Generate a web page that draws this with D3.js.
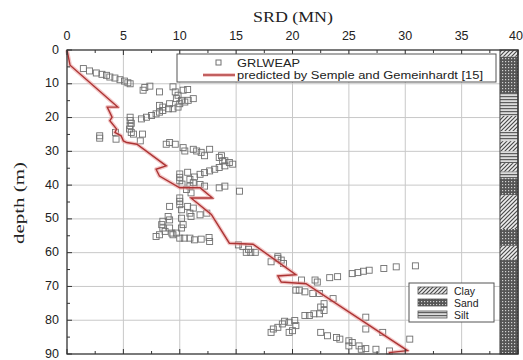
<!DOCTYPE html>
<html>
<head>
<meta charset="utf-8">
<script src="https://cdn.jsdelivr.net/npm/d3@7"></script>
<style>
    body { margin: 0; background: #fff; }
    svg { display: block; }
</style>
</head>
<body>
<svg id="chart" width="523" height="360"></svg>
<script>
// Axis ticks
const srdTicks = [0, 5, 10, 15, 20, 25, 30, 35, 40];
const depthTicks = [0, 10, 20, 30, 40, 50, 60, 70, 80, 90];

// GRLWEAP points: [SRD (MN), depth (m)]
const grlweapPoints = [
    [1.45, 5.5], [2.0, 6.2], [2.6, 6.8], [3.1, 7.2], [3.5, 7.5], [3.8, 8.0], [4.25, 8.3], [4.7, 8.8], [5.1, 9.2], [5.4, 9.7], [5.6, 10.0],
    [6.75, 11.9], [6.9, 11.1], [7.35, 10.7], [8.2, 12.4], [9.4, 10.9], [9.6, 12.4], [9.85, 13.4], [10.3, 11.9], [10.7, 11.7],
    [9.7, 14.4], [10.15, 14.9], [10.45, 15.4], [10.75, 14.9], [11.2, 14.4], [10.0, 15.9], [9.85, 16.9], [9.4, 17.4], [9.0, 17.4],
    [8.5, 17.9], [8.2, 18.4], [7.9, 18.9], [7.5, 19.4], [7.05, 19.9], [6.6, 20.4], [8.2, 16.4], [8.5, 16.9], [9.1, 15.9],
    [5.6, 19.9], [5.6, 20.9], [5.7, 21.7], [5.6, 22.4], [5.55, 23.4], [5.7, 24.4], [5.9, 24.9], [6.7, 24.9], [2.9, 25.4], [2.9, 26.1],
    [4.35, 26.4], [4.3, 24.4], [6.5, 26.9],
    [8.8, 27.9], [9.1, 27.4], [9.6, 27.9], [10.3, 28.9], [10.45, 29.9], [11.2, 29.4], [11.5, 29.9], [11.9, 30.3], [12.2, 31.3],
    [12.65, 29.4], [13.5, 31.8], [13.8, 32.8], [14.0, 34.3], [13.5, 34.8], [13.1, 35.3], [12.65, 35.8], [12.2, 36.3], [11.8, 36.8],
    [11.3, 37.6], [10.9, 38.3], [11.2, 39.3], [11.8, 39.8], [12.2, 40.3], [10.9, 40.3], [10.6, 41.3], [11.0, 42.3], [13.5, 40.8],
    [14.0, 40.3], [13.7, 31.3], [14.4, 33.3], [14.7, 33.8], [14.0, 32.8], [15.3, 41.8],
    [10.0, 36.7], [10.0, 37.7], [10.0, 38.7], [10.2, 39.7], [10.7, 36.2],
    [10.0, 43.8], [10.0, 44.8], [10.0, 45.8], [9.1, 46.3], [10.15, 47.3], [10.7, 46.3], [10.9, 48.3], [11.0, 49.3], [11.2, 46.8],
    [8.97, 49.3], [9.1, 50.3], [8.5, 50.7], [8.4, 51.7], [8.5, 52.7], [8.7, 53.7], [8.2, 54.7], [7.9, 55.2], [9.1, 52.7], [9.3, 54.2],
    [9.4, 54.7], [10.15, 49.8], [10.3, 51.7], [10.15, 52.7], [9.7, 54.2], [10.0, 55.7], [10.4, 55.7], [10.9, 55.7], [11.3, 56.2],
    [11.8, 48.8], [12.4, 48.3], [11.9, 56.0], [12.65, 56.7], [12.6, 55.5],
    [15.2, 57.7], [15.6, 58.2], [15.9, 59.9], [16.3, 59.9], [16.7, 59.9], [16.1, 59.0], [18.1, 62.7], [18.7, 61.7], [19.0, 62.2],
    [19.2, 63.2], [18.7, 61.2],
    [20.8, 68.1], [22.0, 68.1], [22.2, 68.7], [23.3, 67.4], [24.0, 67.1], [25.3, 66.2], [25.8, 65.9], [26.3, 65.5], [26.8, 65.2],
    [28.1, 64.7], [29.2, 64.2], [30.9, 63.9],
    [20.3, 71.1], [20.6, 71.1], [21.1, 71.6], [21.8, 72.1], [22.4, 72.1], [23.6, 73.6], [22.8, 75.1], [22.5, 76.1], [22.8, 77.1],
    [22.4, 78.1], [21.9, 78.1], [21.1, 78.6], [21.5, 78.6], [26.5, 79.1],
    [19.7, 80.6], [20.2, 80.1], [19.1, 81.1], [18.7, 82.1], [18.3, 82.6], [20.3, 81.6], [20.0, 83.1], [19.7, 83.6], [18.1, 83.6], [19.3, 80.3],
    [26.5, 82.6], [22.5, 83.6], [23.1, 84.6], [23.9, 85.1], [24.2, 85.6], [25.0, 86.1], [25.3, 86.6], [25.9, 87.6], [26.5, 88.4],
    [27.4, 88.6], [28.6, 89.1], [25.0, 87.6], [26.1, 88.6], [28.0, 83.6], [30.4, 85.6]
];

// Predicted by Semple and Gemeinhardt: [SRD (MN), depth (m)]
const predictedLine = [
    [0, 0], [0.27, 4.5], [4.5, 16.9], [3.57, 16.9], [4.0, 19.9], [3.8, 20.9], [4.4, 23.4], [4.25, 24.4], [4.8, 25.4], [5.0, 26.9],
    [5.3, 27.4], [6.2, 27.9], [8.8, 34.3], [7.9, 35.3], [8.2, 37.3], [10.0, 40.8], [11.8, 40.8], [12.9, 43.8], [11.0, 43.8],
    [12.8, 48.7], [14.4, 57.2], [16.5, 57.5], [20.3, 66.5], [18.7, 66.9], [19.0, 68.7], [21.2, 69.2], [30.2, 89.0], [28.6, 89.6], [28.6, 90]
];

// Soil profile
const layerTop =    [0, 2, 13, 19.5, 24, 27, 30, 33.5, 36, 38, 43, 53, 58, 62];
const layerBottom = [2, 13, 19.5, 24, 27, 30, 33.5, 36, 38, 43, 53, 58, 62, 90];
const layerType =   ['clay', 'sand', 'silt', 'clay', 'silt', 'clay', 'silt', 'clay', 'silt', 'sand', 'clay', 'sand', 'clay', 'sand'];
const soilNames = ['Clay', 'Sand', 'Silt'];

const svg = d3.select('#chart');
const plot = { left: 67, right: 518, top: 50, bottom: 354 };
const sans = 'Liberation Sans, Arial, sans-serif';
const serif = 'Liberation Serif, Times New Roman, serif';

const x = d3.scaleLinear().domain([0, 40]).range([plot.left, plot.right]);
const y = d3.scaleLinear().domain([0, 90]).range([plot.top, plot.bottom]);

// Hatch patterns for the soil column
const defs = svg.append('defs');
const clayPat = defs.append('pattern').attr('id', 'pat-clay')
    .attr('patternUnits', 'userSpaceOnUse').attr('width', 4).attr('height', 4);
clayPat.append('rect').attr('width', 4).attr('height', 4).attr('fill', '#eeeeee');
clayPat.append('path').attr('d', 'M0,4 L4,0 M-1,1 L1,-1 M3,5 L5,3')
    .attr('stroke', '#4a4a4a').attr('stroke-width', 1.2);

const sandPat = defs.append('pattern').attr('id', 'pat-sand')
    .attr('patternUnits', 'userSpaceOnUse').attr('width', 3).attr('height', 3);
sandPat.append('rect').attr('width', 3).attr('height', 3).attr('fill', '#555');
sandPat.append('rect').attr('x', 1).attr('y', 1).attr('width', 1.2).attr('height', 1.2).attr('fill', '#d0d0d0');

const siltPat = defs.append('pattern').attr('id', 'pat-silt')
    .attr('patternUnits', 'userSpaceOnUse').attr('width', 4).attr('height', 3);
siltPat.append('rect').attr('width', 4).attr('height', 3).attr('fill', '#dcdcdc');
siltPat.append('rect').attr('width', 4).attr('height', 1.2).attr('fill', '#5e5e5e');

const patFill = { clay: 'url(#pat-clay)', sand: 'url(#pat-sand)', silt: 'url(#pat-silt)' };

// Gridlines
const grid = svg.append('g').attr('class', 'grid');
grid.selectAll('line.vx')
    .data(srdTicks.filter(t => t > 0 && t < 40))
    .join('line')
    .attr('x1', d => x(d)).attr('x2', d => x(d))
    .attr('y1', plot.top).attr('y2', plot.bottom)
    .attr('stroke', '#c8c8c8').attr('stroke-width', 1);
grid.selectAll('line.hy')
    .data(depthTicks.filter(t => t > 0 && t < 90))
    .join('line')
    .attr('x1', plot.left).attr('x2', plot.right)
    .attr('y1', d => y(d)).attr('y2', d => y(d))
    .attr('stroke', '#c8c8c8').attr('stroke-width', 1);

// GRLWEAP squares
svg.append('g')
    .selectAll('rect')
    .data(grlweapPoints)
    .join('rect')
    .attr('x', d => x(d[0]) - 3)
    .attr('y', d => y(d[1]) - 3)
    .attr('width', 6).attr('height', 6)
    .attr('fill', 'none')
    .attr('stroke', '#707070')
    .attr('stroke-width', 0.9);

// Predicted line with a soft halo
const line = d3.line().x(d => x(d[0])).y(d => y(d[1]));
svg.append('path').datum(predictedLine)
    .attr('d', line).attr('fill', 'none')
    .attr('stroke', '#eba4a4').attr('stroke-width', 4).attr('stroke-opacity', 0.6)
    .attr('stroke-linejoin', 'round');
svg.append('path').datum(predictedLine)
    .attr('d', line).attr('fill', 'none')
    .attr('stroke', '#ad3434').attr('stroke-width', 1.4)
    .attr('stroke-linejoin', 'miter');

// Soil column
const column = svg.append('g');
column.selectAll('rect')
    .data(layerType)
    .join('rect')
    .attr('x', x(38.4))
    .attr('y', (d, i) => y(layerTop[i]))
    .attr('width', x(40) - x(38.4))
    .attr('height', (d, i) => y(layerBottom[i]) - y(layerTop[i]))
    .attr('fill', d => patFill[d]);
column.append('rect')
    .attr('x', x(38.4)).attr('y', plot.top)
    .attr('width', x(40) - x(38.4)).attr('height', plot.bottom - plot.top)
    .attr('fill', 'none').attr('stroke', '#444').attr('stroke-width', 1);

// Axes, ticks pointing inward
const topAxis = svg.append('g').attr('transform', `translate(0,${plot.top})`);
topAxis.selectAll('line.minor')
    .data(d3.range(2.5, 40, 5))
    .join('line')
    .attr('x1', d => x(d)).attr('x2', d => x(d))
    .attr('y1', 0).attr('y2', 3)
    .attr('stroke', '#333');
topAxis.selectAll('line.major')
    .data(srdTicks)
    .join('line')
    .attr('x1', d => x(d)).attr('x2', d => x(d))
    .attr('y1', 0).attr('y2', 5)
    .attr('stroke', '#333');
// the last label sits at the window edge, so keep it inside
topAxis.selectAll('text')
    .data(srdTicks)
    .join('text')
    .attr('x', d => d === 40 ? 523 : x(d)).attr('y', -10)
    .attr('text-anchor', d => d === 40 ? 'end' : 'middle')
    .attr('font-family', sans)
    .attr('font-size', 12.5)
    .attr('fill', '#222')
    .text(d => d);

const bottomAxis = svg.append('g').attr('transform', `translate(0,${plot.bottom})`);
bottomAxis.selectAll('line.minor')
    .data(d3.range(2.5, 40, 5))
    .join('line')
    .attr('x1', d => x(d)).attr('x2', d => x(d))
    .attr('y1', 0).attr('y2', -3)
    .attr('stroke', '#333');
bottomAxis.selectAll('line.major')
    .data(srdTicks)
    .join('line')
    .attr('x1', d => x(d)).attr('x2', d => x(d))
    .attr('y1', 0).attr('y2', -5)
    .attr('stroke', '#333');

const leftAxis = svg.append('g').attr('transform', `translate(${plot.left},0)`);
leftAxis.selectAll('line.minor')
    .data(d3.range(5, 90, 10))
    .join('line')
    .attr('x1', 0).attr('x2', 3)
    .attr('y1', d => y(d)).attr('y2', d => y(d))
    .attr('stroke', '#333');
leftAxis.selectAll('line.major')
    .data(depthTicks)
    .join('line')
    .attr('x1', 0).attr('x2', 5)
    .attr('y1', d => y(d)).attr('y2', d => y(d))
    .attr('stroke', '#333');
leftAxis.selectAll('text')
    .data(depthTicks)
    .join('text')
    .attr('x', -8).attr('y', d => y(d) + 3.5)
    .attr('text-anchor', 'end')
    .attr('font-family', sans)
    .attr('font-size', 12.5)
    .attr('fill', '#222')
    .text(d => d);

// Frame
svg.append('rect')
    .attr('x', plot.left).attr('y', plot.top)
    .attr('width', plot.right - plot.left).attr('height', plot.bottom - plot.top)
    .attr('fill', 'none').attr('stroke', '#333').attr('stroke-width', 1.3);

// Axis titles (source text is a little wider than the font, so stretch it)
svg.append('text')
    .attr('x', 253).attr('y', 22)
    .attr('font-family', serif)
    .attr('font-size', 15)
    .attr('fill', '#222')
    .attr('textLength', 80).attr('lengthAdjust', 'spacingAndGlyphs')
    .text('SRD (MN)');
svg.append('text')
    .attr('transform', `translate(24,${(plot.top + plot.bottom) / 2 + 42}) rotate(-90)`)
    .attr('font-family', serif)
    .attr('font-size', 15)
    .attr('fill', '#222')
    .attr('textLength', 82).attr('lengthAdjust', 'spacingAndGlyphs')
    .text('depth (m)');

// Series legend
const legend = svg.append('g');
legend.append('rect')
    .attr('x', 177).attr('y', 54).attr('width', 319).attr('height', 28)
    .attr('fill', '#fff').attr('stroke', '#555').attr('stroke-width', 1);
legend.append('rect')
    .attr('x', 216).attr('y', 60).attr('width', 5).attr('height', 5)
    .attr('fill', 'none').attr('stroke', '#707070');
legend.append('text')
    .attr('x', 237).attr('y', 66.5)
    .attr('font-family', sans)
    .attr('font-size', 10).attr('fill', '#222')
    .attr('textLength', 63).attr('lengthAdjust', 'spacingAndGlyphs')
    .text('GRLWEAP');
legend.append('line')
    .attr('x1', 203).attr('x2', 235).attr('y1', 75).attr('y2', 75)
    .attr('stroke', '#eba4a4').attr('stroke-width', 4).attr('stroke-opacity', 0.6);
legend.append('line')
    .attr('x1', 203).attr('x2', 235).attr('y1', 75).attr('y2', 75)
    .attr('stroke', '#ad3434').attr('stroke-width', 1.4);
legend.append('text')
    .attr('x', 237).attr('y', 78.5)
    .attr('font-family', sans)
    .attr('font-size', 10).attr('fill', '#222')
    .attr('textLength', 246).attr('lengthAdjust', 'spacingAndGlyphs')
    .text('predicted by Semple and Gemeinhardt [15]');

// Soil legend
const soilLegend = svg.append('g');
soilLegend.append('rect')
    .attr('x', 409).attr('y', 283).attr('width', 85).attr('height', 39)
    .attr('fill', '#fff').attr('stroke', '#555').attr('stroke-width', 1);
soilLegend.selectAll('rect.swatch')
    .data(soilNames)
    .join('rect')
    .attr('class', 'swatch')
    .attr('x', 418).attr('y', (d, i) => 287 + i * 12)
    .attr('width', 29).attr('height', 7)
    .attr('fill', d => patFill[d.toLowerCase()])
    .attr('stroke', '#555').attr('stroke-width', 0.8);
soilLegend.selectAll('text')
    .data(soilNames)
    .join('text')
    .attr('x', 454).attr('y', (d, i) => 294.5 + i * 12)
    .attr('font-family', sans)
    .attr('font-size', 10.5).attr('fill', '#222')
    .text(d => d);
</script>
</body>
</html>
